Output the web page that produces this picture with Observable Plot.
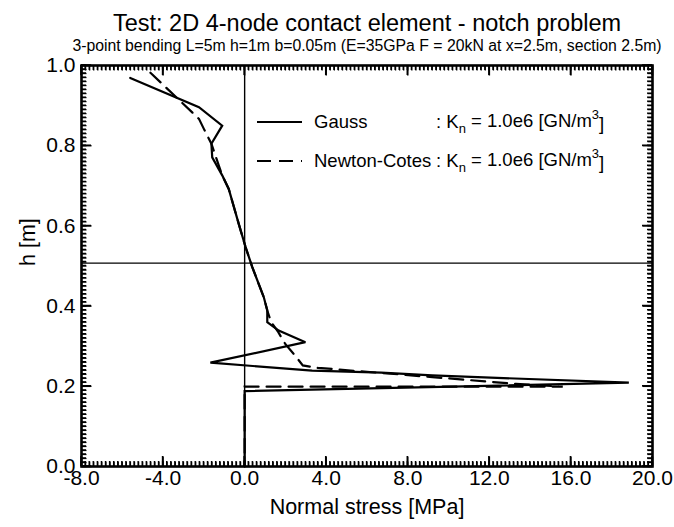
<!DOCTYPE html>
<html>
<head>
<meta charset="utf-8">
<script src="https://cdn.jsdelivr.net/npm/d3@7"></script>
<script src="https://cdn.jsdelivr.net/npm/@observablehq/plot@0.6"></script>
</head>
<body style="margin:0;background:#fff">
<div id="chart"></div>
<script>
// ---- data ----
const titleText = "Test: 2D 4-node contact element - notch problem";
const subtitleText = "3-point bending L=5m h=1m b=0.05m (E=35GPa F = 20kN at x=2.5m, section 2.5m)";
const xLabel = "Normal stress [MPa]";
const yLabel = "h [m]";

// Gauss integration (solid)
const gaussStress = [-5.61, -2.24, -1.10, -1.63, -1.59, -1.10, -0.78, -0.30, 0.04, 0.37, 0.94, 1.11, 1.11, 1.67, 2.98, -1.68, 3.31, 6.7, 9.2, 18.84, 0, 0];
const gaussH      = [0.969, 0.896, 0.850, 0.805, 0.771, 0.726, 0.692, 0.607, 0.548, 0.498, 0.422, 0.389, 0.360, 0.339, 0.310, 0.259, 0.239, 0.234, 0.227, 0.209, 0.188, 0];

// Newton-Cotes integration (dashed)
const ncStress = [-4.62, -2.24, -2.00, -1.63, -1.27, -1.10, -0.78, -0.30, 0.04, 0.37, 0.94, 1.11, 1.30, 1.65, 2.00, 2.50, 2.85, 3.60, 9.2, 13.3, 15.6, 0, 0];
const ncH      = [0.982, 0.867, 0.842, 0.805, 0.751, 0.726, 0.692, 0.607, 0.548, 0.498, 0.422, 0.389, 0.360, 0.335, 0.305, 0.275, 0.252, 0.246, 0.223, 0.206, 0.199, 0.199, 0];

// reference lines
const zeroStress = [0];
const neutralH = [0.507];

// axes
const xTicks = [-8, -4, 0, 4, 8, 12, 16, 20];
const xTickLabels = ["-8.0", "-4.0", "0.0", "4.0", "8.0", "12.0", "16.0", "20.0"];
const yTicks = [0, 0.2, 0.4, 0.6, 0.8, 1.0];
const yTickLabels = ["0.0", "0.2", "0.4", "0.6", "0.8", "1.0"];
const xMinorStep = 0.2;
const yMinorStep = 0.01;

// legend entries
const legendNames = ["Gauss", "Newton-Cotes"];
const legendKn = "1.0e6";

// ---- build ----
const gauss = gaussStress.map((x, i) => ({x, y: gaussH[i]}));
const nc = ncStress.map((x, i) => ({x, y: ncH[i]}));
const xMinor = d3.range(-8, 20.0001, xMinorStep).map(v => +v.toFixed(3));
const yMinor = d3.range(0, 1.00001, yMinorStep).map(v => +v.toFixed(3));

const W = 674, H = 527;
const mL = 81, mR = 22, mT = 65, mB = 61;
const font = "'Liberation Sans', Arial, Helvetica, sans-serif";
const majorLen = 10, minorLen = 5;

const tickShape = {draw(context, l) { context.moveTo(0, 0); context.lineTo(0, -l); }};
const tickMark = (data, chan, fixed, rotate, len, sw) =>
  Plot.vector(data, {[chan]: d => d, ...fixed, rotate, length: len, anchor: "start",
    shape: tickShape, stroke: "#000", strokeWidth: sw, strokeLinecap: "butt"});

const plot = Plot.plot({
  width: W, height: H,
  marginLeft: mL, marginRight: mR, marginTop: mT, marginBottom: mB,
  style: {fontFamily: font, fontSize: "21px", background: "#fff", color: "#000"},
  x: {domain: [-8, 20], ticks: xTicks, tickSize: 0, tickPadding: 4, tickFormat: d => xTickLabels[xTicks.indexOf(d)], label: null},
  y: {domain: [0, 1], ticks: yTicks, tickSize: 0, tickPadding: 6, tickFormat: d => yTickLabels[yTicks.indexOf(d)], label: null},
  marks: [
    // reference lines
    Plot.ruleX(zeroStress, {x: d => d, stroke: "#000", strokeWidth: 1.4}),
    Plot.ruleY(neutralH, {y: d => d, stroke: "#000", strokeWidth: 1.2}),
    // curves
    Plot.line(gauss, {x: "x", y: "y", stroke: "#000", strokeWidth: 2.2, strokeLinejoin: "miter", strokeMiterlimit: 3}),
    Plot.line(nc, {x: "x", y: "y", stroke: "#000", strokeWidth: 2.2, strokeDasharray: "14,8", strokeLinejoin: "miter", strokeMiterlimit: 3}),
    Plot.frame({stroke: "#000", strokeWidth: 2.6}),
    // inward ticks (minor & major) on all four sides
    tickMark(xMinor, "x", {y: 0}, 0, minorLen, 1.3),
    tickMark(xMinor, "x", {y: 1}, 180, minorLen, 1.3),
    tickMark(xTicks, "x", {y: 0}, 0, majorLen, 1.5),
    tickMark(xTicks, "x", {y: 1}, 180, majorLen, 1.5),
    tickMark(yMinor, "y", {x: -8}, 90, minorLen, 1.3),
    tickMark(yMinor, "y", {x: 20}, -90, minorLen, 1.3),
    tickMark(yTicks, "y", {x: -8}, 90, majorLen, 1.5),
    tickMark(yTicks, "y", {x: 20}, -90, majorLen, 1.5),
    // axis titles
    Plot.text([xLabel], {text: d => d, frameAnchor: "bottom", dy: 47, fontSize: 21.5}),
    Plot.text([yLabel], {text: d => d, frameAnchor: "left", dx: -53, rotate: -90, fontSize: 21.5}),
    // title & subtitle
    Plot.text([titleText], {text: d => d, frameAnchor: "top", dy: -51, fontSize: 23.5}),
    Plot.text([subtitleText], {text: d => d, frameAnchor: "top", dy: -26, fontSize: 15.8})
  ]
});

const svg = d3.select(plot);
const sx = plot.scale("x"), sy = plot.scale("y");

// second pass of ticks as one path per side, positioned with Plot's scales
const xb = sy.apply(0), xt = sy.apply(1), yl = sx.apply(-8), yr = sx.apply(20);
function tickPath(len) {
  return (vals, side) => vals.map(v => {
    if (side === "b") { const p = sx.apply(v); return `M${p},${xb}V${xb - len}`; }
    if (side === "t") { const p = sx.apply(v); return `M${p},${xt}V${xt + len}`; }
    if (side === "l") { const p = sy.apply(v); return `M${yl},${p}H${yl + len}`; }
    const p = sy.apply(v); return `M${yr},${p}H${yr - len}`;
  }).join("");
}
const minorP = tickPath(minorLen), majorP = tickPath(majorLen);
const tg = svg.append("g").attr("fill", "none").attr("stroke", "#000");
["b", "t"].forEach(s => {
  tg.append("path").attr("d", minorP(xMinor, s)).attr("stroke-width", 1.3);
  tg.append("path").attr("d", majorP(xTicks, s)).attr("stroke-width", 1.5);
});
["l", "r"].forEach(s => {
  tg.append("path").attr("d", minorP(yMinor, s)).attr("stroke-width", 1.3);
  tg.append("path").attr("d", majorP(yTicks, s)).attr("stroke-width", 1.5);
});

// legend (drawn into the same SVG)
const lg = svg.append("g").attr("font-family", font).attr("fill", "#000").attr("text-anchor", "start");
const rows = [{y: 122, dash: null}, {y: 161, dash: "14,8"}];
rows.forEach((r, i) => {
  lg.append("line").attr("x1", 257).attr("x2", 302).attr("y1", r.y).attr("y2", r.y)
    .attr("stroke", "#000").attr("stroke-width", 2.2).attr("stroke-dasharray", r.dash);
  lg.append("text").attr("x", 314).attr("y", r.y).attr("dy", "0.35em").attr("font-size", 18.5)
    .text(legendNames[i]);
  const t = lg.append("text").attr("x", 436).attr("y", r.y).attr("dy", "0.35em").attr("font-size", 18.5);
  t.append("tspan").text(": K");
  t.append("tspan").attr("font-size", 13).attr("dy", "0.35em").text("n");
  t.append("tspan").attr("dy", "-0.35em").text(" = " + legendKn + " [GN/m");
  t.append("tspan").attr("font-size", 13).attr("dy", "-0.6em").text("3");
  t.append("tspan").attr("dy", "0.6em").text("]");
});

document.getElementById("chart").appendChild(plot);
</script>
</body>
</html>
